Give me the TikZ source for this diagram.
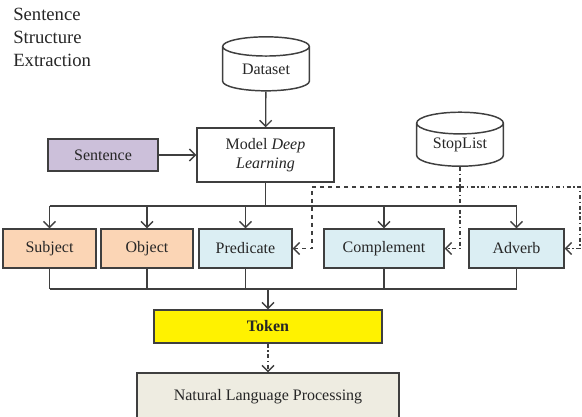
\documentclass[tikz,border=0pt]{standalone}
\usepackage{fontspec}
\setmainfont{Liberation Serif}
\usepackage{tikz}
\usetikzlibrary{shapes.geometric,arrows.meta}

\definecolor{linegray}{HTML}{3F3F3F}
\definecolor{textgray}{HTML}{262626}
\definecolor{lavender}{HTML}{CCC0DA}
\definecolor{peach}{HTML}{FBD5B5}
\definecolor{paleblue}{HTML}{DBEEF3}
\definecolor{tan}{HTML}{EEECE1}

\tikzset{
    wordbox/.style = {draw=linegray, line width=1.1pt, text=textgray,
        font=\fontsize{12}{14}\selectfont, minimum height=29.25pt, inner sep=0pt},
    dbase/.style = {cylinder, shape border rotate=90, aspect=0.4, draw=linegray,
        line width=1.1pt, text=textgray, font=\fontsize{12}{14}\selectfont,
        minimum width=65pt, minimum height=40.5pt, inner sep=0pt},
    link/.style = {draw=linegray, line width=1pt},
    >={Straight Barb[length=4.5pt,width=9pt]}
}

\begin{document}
\begin{tikzpicture}[x=0.75pt, y=-0.75pt]
    \useasboundingbox (0,0) rectangle (582,417);

    % title
    \node[anchor=north west, inner sep=0pt, align=left, text=textgray,
          font=\fontsize{14}{17.25}\selectfont] (title) at (13,8)
          {Sentence\\Structure\\Extraction};

    % sources
    \node[dbase] (dataset) at (266,69) {Dataset};
    \node[wordbox, fill=white, minimum width=102.75pt, minimum height=40.5pt, align=center] (model) at (265.5,155) {Model \textit{Deep}\\ \textit{Learning}};
    \node[wordbox, fill=lavender, minimum width=82.5pt, minimum height=24pt] (sentence) at (103,155) {Sentence};
    \node[dbase] (stoplist) at (460,145) {StopList};

    % parts of the sentence
    \node[wordbox, fill=peach, minimum width=69.75pt] (subject) at (49.5,248.5) {Subject};
    \node[wordbox, fill=peach, minimum width=69pt] (object) at (147,248.5) {Object};
    \node[wordbox, fill=paleblue, minimum width=69.75pt] (predicate) at (245.5,248.5) {Predicate};
    \node[wordbox, fill=paleblue, minimum width=90pt] (complement) at (384,248.5) {Complement};
    \node[wordbox, fill=paleblue, minimum width=71.25pt] (adverb) at (516.5,248.5) {Adverb};

    % output
    \node[wordbox, fill=yellow, minimum width=171pt, minimum height=24.75pt, font=\fontsize{12}{14}\selectfont\bfseries] (token) at (268,326.5) {Token};
    \node[wordbox, fill=tan, minimum width=196.5pt, minimum height=35.25pt] (nlp) at (268,396.5) {Natural Language Processing};

    \coordinate (topbus) at (0,206);
    \coordinate (lowbus) at (0,289);
    \coordinate (stopleft) at (312,187);
    \coordinate (stopright) at (580,187);

    \draw[link,->] (dataset) -- (model);
    \draw[link,->] (sentence) -- (model);

    \draw[link] (model) -- (model |- topbus);
    \draw[link] (subject |- topbus) -- (adverb |- topbus);
    \foreach \part in {subject,object,predicate,complement,adverb}
        \draw[link,->] (\part |- topbus) -- (\part);

    \foreach \part in {subject,object,predicate,complement,adverb}
        \draw[link] (\part) -- (\part |- lowbus);
    \draw[link] (subject |- lowbus) -- (adverb |- lowbus);
    \draw[link,->] (token |- lowbus) -- (token);

    % stop list
    \draw[link, dash dot, ->] (stoplist) |- (complement);
    \draw[link, dashed, ->] (stoplist |- stopleft) -- (stopleft) |- (predicate);
    \draw[link, dash dot, ->] (stoplist |- stopright) -- (stopright) |- (adverb);

    \draw[link, dash dot, ->] (token) -- (nlp);
\end{tikzpicture}
\end{document}
